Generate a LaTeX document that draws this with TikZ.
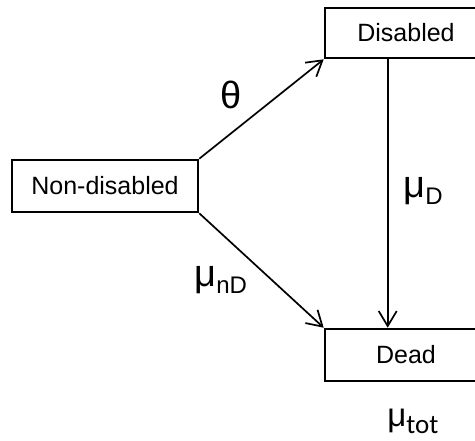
\documentclass[tikz,border=0pt]{standalone}
\usepackage{fontspec}
\setmainfont{Liberation Sans}
\newfontfamily\calfont{Carlito}
\usetikzlibrary{arrows.meta}
\tikzset{
  statebox/.style={draw, line width=1.3pt, inner sep=0pt, font=\fontsize{12.5}{15}\selectfont},
  arr/.style={line width=0.85pt, -{Straight Barb[length=7.5pt,width=9pt,line width=0.85pt]}},
  rate/.style={inner sep=0pt, font=\fontsize{19}{23}\selectfont}
}
\newcommand{\sbs}[1]{\raisebox{-3.5pt}{\fontsize{12}{14}\selectfont #1}}
\begin{document}
\begin{tikzpicture}[x=0.5pt,y=-0.5pt]
\useasboundingbox (0,0) rectangle (475,440);
\clip (0,0) rectangle (475,440);
\node[statebox, minimum width=81pt, minimum height=25pt] (dis) at (406,33) {Disabled};
\node[statebox, minimum width=93pt, minimum height=26pt] (nd) at (105,186) {Non-disabled};
\node[statebox, minimum width=81pt, minimum height=26pt] (dead) at (406,355) {Dead};
\draw[arr] (nd.north east) -- (dis.south west);
\draw[arr] (nd.south east) -- (dead.north west);
\draw[arr] ([xshift=32pt]dis.south west) -- ([xshift=32pt]dead.north west);
\node[rate] (theta) at (231,95) {θ};
\node[rate, anchor=base west] (muD) at (403,197) {μ\sbs{D}};
\node[rate, anchor=base west] (mund) at (194,286) {μ\sbs{nD}};
\node[rate, anchor=base west, font=\fontsize{16.5}{20}\selectfont] (mutot) at (387,426) {μ\raisebox{-3.5pt}{\calfont\fontsize{13.5}{16}\selectfont tot}};
\end{tikzpicture}
\end{document}
